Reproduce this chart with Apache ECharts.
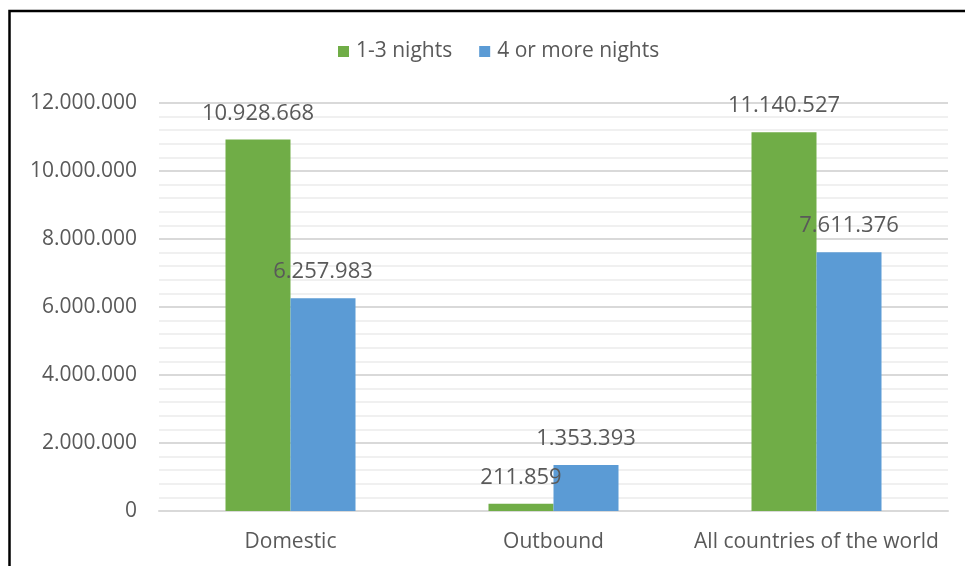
<!DOCTYPE html>
<html>
<head>
<meta charset="utf-8">
<script src="https://cdn.jsdelivr.net/npm/echarts@6/dist/echarts.min.js"></script>
<style>
  html, body { margin: 0; padding: 0; background: #ffffff; }
  #chart { width: 965px; height: 566px; }
</style>
</head>
<body>
<div id="chart"></div>
<script>
// Trips by destination, split by length of stay
const categories = ['Domestic', 'Outbound', 'All countries of the world'];
const shortStays = [10928668, 211859, 11140527];   // 1-3 nights
const longStays = [6257983, 1353393, 7611376];     // 4 or more nights
const seriesNames = ['1-3 nights', '4 or more nights'];

const TEXT = '#595959';
const FONT = 'Open Sans';

// Thousands separated with dots, e.g. 12.000.000
function dotted(v) {
  return String(Math.round(v)).replace(/\B(?=(\d{3})+(?!\d))/g, '.');
}

const chart = echarts.init(document.getElementById('chart'), null, { renderer: 'canvas' });

const labelStyle = {
  show: true,
  position: 'top',
  distance: 15,
  color: TEXT,
  fontFamily: FONT,
  fontSize: 22,
  formatter: p => dotted(p.value)
};

chart.setOption({
  animation: false,
  backgroundColor: '#ffffff',
  textStyle: { fontFamily: FONT, color: TEXT },
  graphic: [{
    type: 'rect',
    shape: { x: 9.5, y: 11, width: 1000, height: 600 },
    style: { fill: 'none', stroke: '#000000', lineWidth: 2.5 },
    silent: true
  }],
  legend: {
    data: seriesNames,
    top: 36,
    left: 333,
    itemWidth: 11,
    itemHeight: 11,
    itemGap: 27,
    icon: 'rect',
    textStyle: { color: TEXT, fontFamily: FONT, fontSize: 21, padding: [0, 0, 0, 2] }
  },
  grid: { left: 159, right: 17, top: 103, bottom: 55, containLabel: false },
  xAxis: {
    type: 'category',
    data: categories,
    axisLine: { show: true, lineStyle: { color: '#d9d9d9', width: 2 } },
    axisTick: { show: false },
    axisLabel: { interval: 0, color: TEXT, fontFamily: FONT, fontSize: 21, margin: 21 },
    splitLine: { show: false }
  },
  yAxis: {
    type: 'value',
    min: 0,
    max: 12000000,
    interval: 2000000,
    axisLine: { show: false },
    axisTick: { show: false },
    axisLabel: { color: TEXT, fontFamily: FONT, fontSize: 21, margin: 22, formatter: dotted },
    splitLine: { show: true, lineStyle: { color: '#d9d9d9', width: 2 } },
    minorTick: { show: false, splitNumber: 5 },
    minorSplitLine: { show: true, lineStyle: { color: '#f0f0f0', width: 2 } }
  },
  series: [
    {
      name: seriesNames[0],
      type: 'bar',
      data: shortStays,
      barWidth: 65,
      barGap: '0%',
      itemStyle: { color: '#70ad47' },
      label: labelStyle
    },
    {
      name: seriesNames[1],
      type: 'bar',
      data: longStays,
      barWidth: 65,
      barGap: '0%',
      itemStyle: { color: '#5b9bd5' },
      label: labelStyle
    }
  ]
});
</script>
</body>
</html>
